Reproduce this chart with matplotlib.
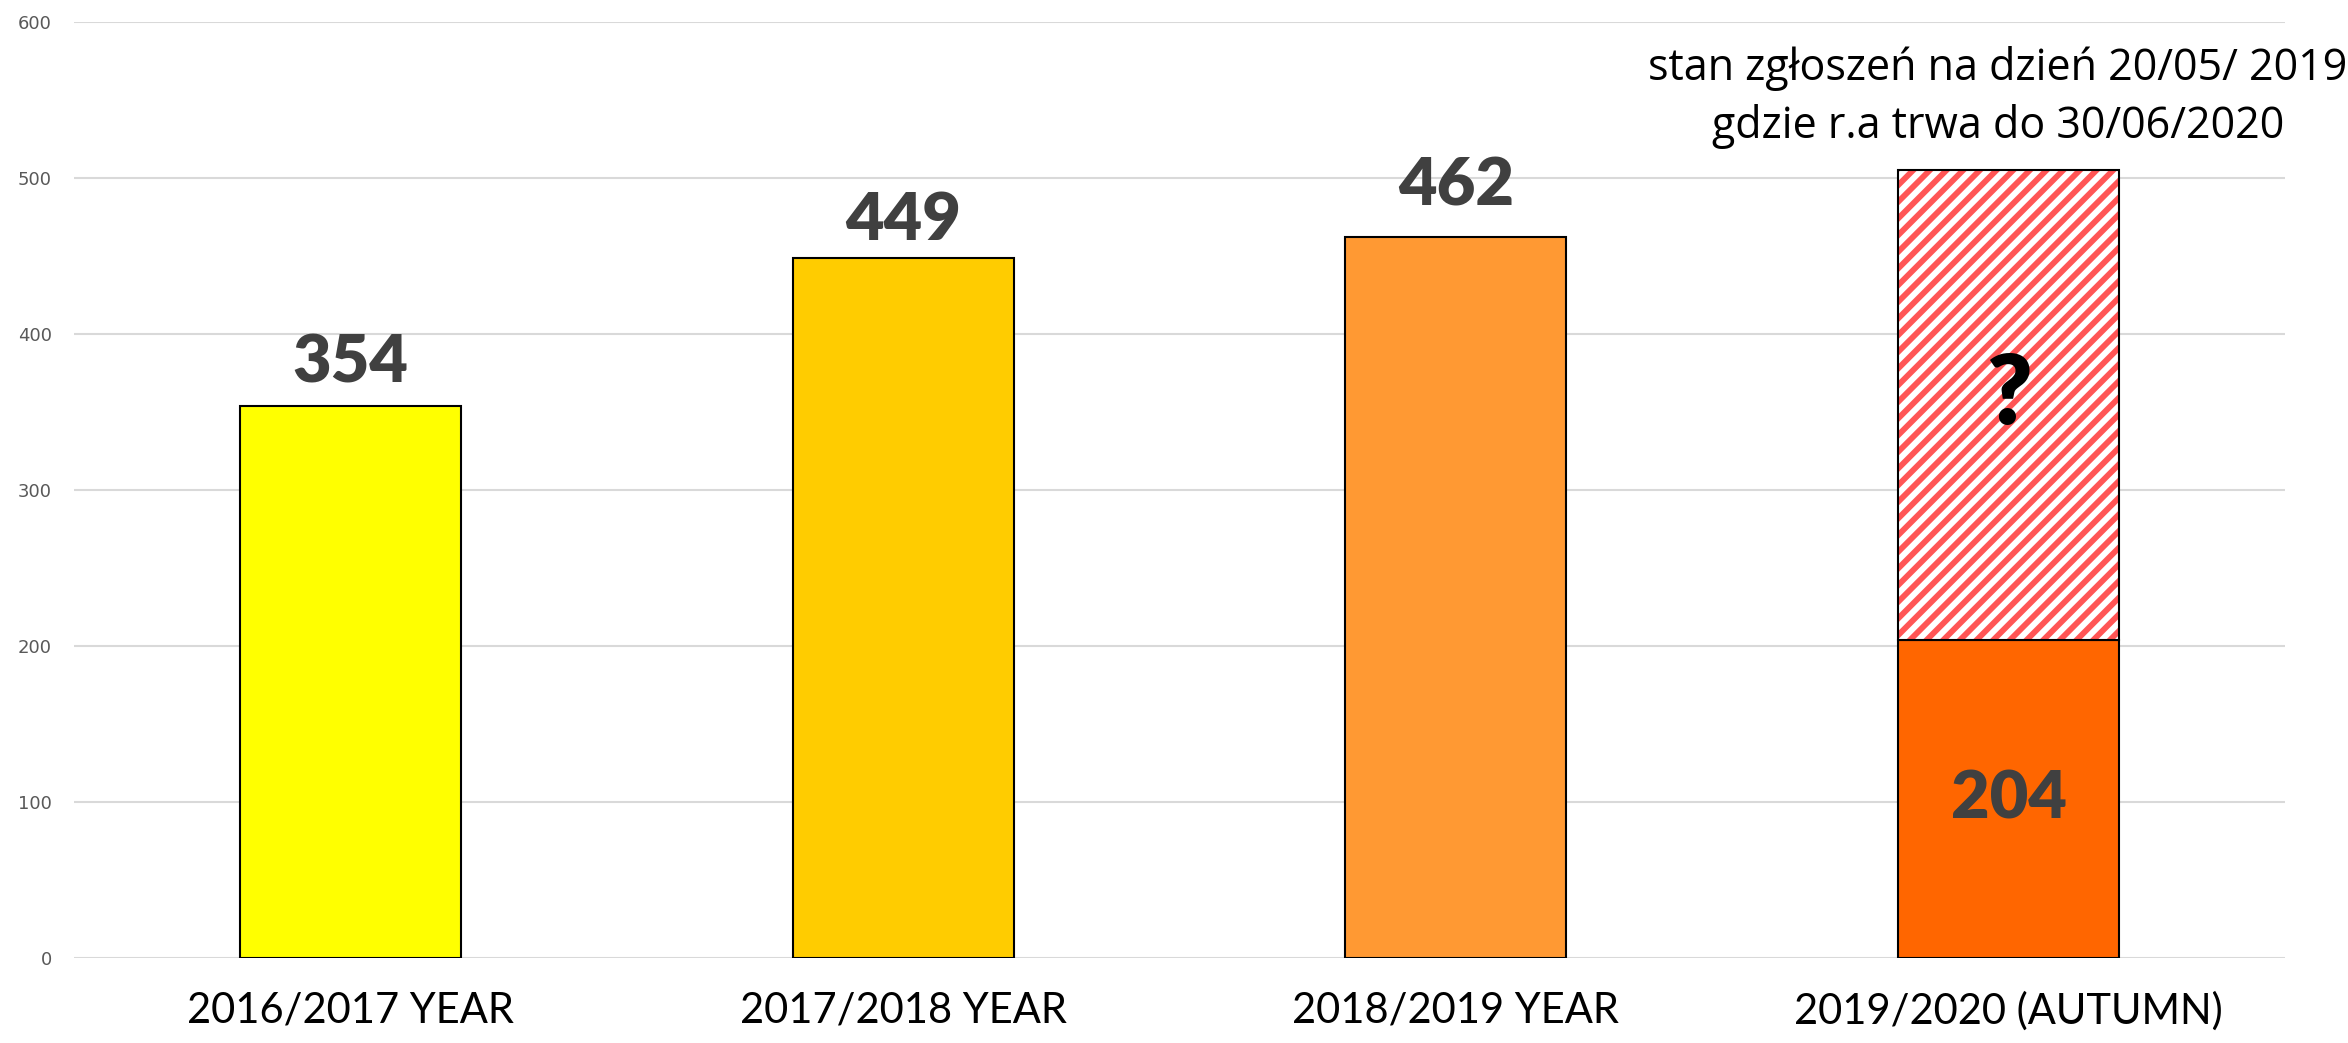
import numpy as np
import matplotlib
matplotlib.use('Agg')
import matplotlib.pyplot as plt

# ==================== 数据 ====================
categories = ['2016/2017 YEAR', '2017/2018 YEAR', '2018/2019 YEAR', '2019/2020 (AUTUMN)']
values = [354, 449, 462, 204]
bar_colors = ['#FFFF00', '#FFCC00', '#FF9933', '#FF6600']
expected_total = 505          # szacowany wynik za caly rok akademicki (kreskowany)
yticks = [0, 100, 200, 300, 400, 500, 600]
note_lines = ['stan zgłoszeń na dzień 20/05/ 2019', 'gdzie r.a trwa do 30/06/2020']

# ==================== styl ====================
DPI = 100
LABEL_COLOR = '#404040'
GRID_COLOR = '#D9D9D9'
HATCH_COLOR = '#FF5555'
BAR_WIDTH = 0.4
LABEL_OFFSETS = [17, 13, 23]   # odstep etykiety od slupka (pt)

plt.rcParams['hatch.linewidth'] = 4.2

fig = plt.figure(figsize=(23.48, 10.43), dpi=DPI)
ax = fig.add_axes([0.0315, 0.0815, 0.9417, 0.8974])

x = np.arange(len(categories))

# slupki pelne
ax.bar(x, values, width=BAR_WIDTH, color=bar_colors, edgecolor='black',
       linewidth=1.5, zorder=3)

# czesc kreskowana ostatniego slupka (brakujace dane)
last = len(values) - 1
rest = expected_total - values[last]
ax.bar(x[last], rest, bottom=values[last], width=BAR_WIDTH, color='white',
       edgecolor=HATCH_COLOR, hatch='//', linewidth=0, zorder=3)
ax.bar(x[last], rest, bottom=values[last], width=BAR_WIDTH, fill=False,
       edgecolor='black', linewidth=1.5, zorder=4)

# etykiety wartosci
for i, v in enumerate(values):
    if i == last:
        ax.text(x[i], v / 2, str(v), ha='center', va='center', fontsize=48,
                fontweight='heavy', color=LABEL_COLOR, family='Lato', zorder=5)
    else:
        ax.annotate(str(v), (x[i], v), xytext=(0, LABEL_OFFSETS[i]),
                    textcoords='offset points', ha='center', va='baseline',
                    fontsize=48, fontweight='heavy', color=LABEL_COLOR,
                    family='Lato', zorder=5)

# znak zapytania w czesci kreskowanej
ax.text(x[last], values[last] + rest * 0.52, '?', ha='center', va='center',
        fontsize=70, fontweight='heavy', color='black', family='Lato', zorder=5)

# opis nad ostatnim slupkiem
ax.text(x[last] - 0.02, 570, note_lines[0], ha='center', va='center',
        fontsize=31, color='black', family='Open Sans', zorder=5)
ax.text(x[last] - 0.02, 533, note_lines[1], ha='center', va='center',
        fontsize=31, color='black', family='Open Sans', zorder=5)

# ==================== osie ====================
ax.set_xlim(-0.5, len(categories) - 0.5)
ax.set_ylim(0, 600)
ax.set_yticks(yticks)
ax.set_xticks(x)
ax.set_xticklabels(categories, fontsize=30, family='Lato', color='black')
for lab in ax.get_yticklabels():
    lab.set_fontsize(13)
    lab.set_color('#595959')
    lab.set_family('DejaVu Sans')

ax.tick_params(axis='x', length=0, pad=24)
ax.tick_params(axis='y', length=0, pad=16)
ax.yaxis.grid(True, color=GRID_COLOR, linewidth=1.5, zorder=0)
ax.set_axisbelow(True)
for side in ['top', 'right', 'left', 'bottom']:
    ax.spines[side].set_visible(False)

fig.savefig('out.png', dpi=DPI, facecolor='white')
